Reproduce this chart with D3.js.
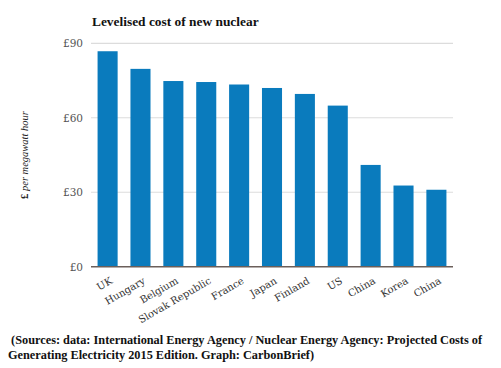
<!DOCTYPE html>
<html>
<head>
<meta charset="utf-8">
<script src="https://cdn.jsdelivr.net/npm/d3@7"></script>
<style>
  body { margin: 0; background: #fff; }
  svg { display: block; }
</style>
</head>
<body>
<script>
// data
var countries = ["UK", "Hungary", "Belgium", "Slovak Republic", "France", "Japan",
                 "Finland", "US", "China", "Korea", "China"];
var costs = [86.8, 79.7, 74.8, 74.4, 73.4, 72.0, 69.6, 64.9, 41.0, 32.7, 31.0];
var yTicks = [0, 30, 60, 90];
var title = "Levelised cost of new nuclear";
var sourceLines = [
  " (Sources: data: International Energy Agency / Nuclear Energy Agency: Projected Costs of",
  "Generating Electricity 2015 Edition. Graph: CarbonBrief)"
];

var w = 501, h = 368;
// plot box (note: "top" is taken by window.top, so use plotTop)
var plotLeft = 91, plotRight = 453, plotTop = 43.3, plotBottom = 266.7;

var svg = d3.select("body").append("svg")
  .attr("width", w)
  .attr("height", h);

var x = d3.scaleBand()
  .domain(d3.range(countries.length))
  .range([plotLeft, plotRight])
  .paddingInner(0.39)
  .paddingOuter(0.2);

var y = d3.scaleLinear()
  .domain([0, 90])
  .range([plotBottom, plotTop]);

// gridlines
svg.append("g")
  .selectAll("line")
  .data(yTicks.filter(d => d > 0))
  .enter().append("line")
  .attr("x1", plotLeft).attr("x2", plotRight)
  .attr("y1", d => y(d)).attr("y2", d => y(d))
  .attr("stroke", "#dcdcdc")
  .attr("stroke-width", 1.2);

// y tick labels
svg.append("g")
  .selectAll("text")
  .data(yTicks)
  .enter().append("text")
  .attr("x", 83)
  .attr("y", d => y(d) + 4)
  .attr("text-anchor", "end")
  .style("font-family", "Georgia, 'DejaVu Serif', serif")
  .style("font-size", "10.5px")
  .style("fill", "#555")
  .text(d => "£" + d);

// bars
svg.append("g")
  .selectAll("rect")
  .data(costs)
  .enter().append("rect")
  .attr("x", (d, i) => x(i))
  .attr("width", x.bandwidth())
  .attr("y", d => y(d))
  .attr("height", d => y(0) - y(d))
  .attr("fill", "#0a7bbd");

// baseline
svg.append("line")
  .attr("x1", plotLeft).attr("x2", plotRight)
  .attr("y1", plotBottom).attr("y2", plotBottom)
  .attr("stroke", "#6b5f5a")
  .attr("stroke-width", 1.5);

// x labels, rotated
svg.append("g")
  .selectAll("text")
  .data(countries)
  .enter().append("text")
  .attr("transform", (d, i) => `translate(${x(i) + x.bandwidth() / 2 + 2}, ${plotBottom + 10}) rotate(-30)`)
  .attr("text-anchor", "end")
  .attr("dy", "0.7em")
  .style("font-family", "Georgia, 'DejaVu Serif', serif")
  .style("font-size", "10px")
  .style("fill", "#333")
  .text(d => d);

// title
svg.append("text")
  .attr("x", 92)
  .attr("y", 26)
  .style("font-family", "'Liberation Serif', Georgia, serif")
  .style("font-weight", "bold")
  .style("font-size", "13.4px")
  .style("fill", "#111")
  .text(title);

// y axis label
var yl = svg.append("text")
  .attr("transform", "translate(28, 155) rotate(-90)")
  .attr("text-anchor", "middle")
  .style("font-family", "'Liberation Serif', Georgia, serif")
  .style("font-size", "10.5px")
  .style("fill", "#222");
yl.append("tspan").style("font-weight", "bold").text("£ ");
yl.append("tspan").style("font-style", "italic").text("per megawatt hour");

// source
svg.append("g")
  .selectAll("text")
  .data(sourceLines)
  .enter().append("text")
  .attr("x", 8)
  .attr("y", (d, i) => 344 + i * 15)
  .attr("xml:space", "preserve")
  .style("font-family", "'Liberation Serif', serif")
  .style("font-weight", "bold")
  .style("font-size", "12.3px")
  .style("fill", "#111")
  .text(d => d);
</script>
</body>
</html>
